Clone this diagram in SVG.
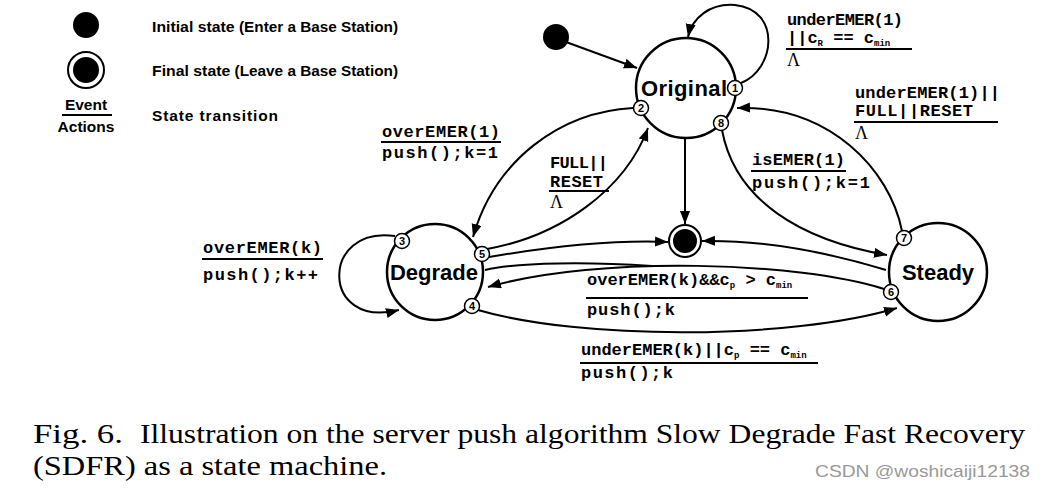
<svg xmlns="http://www.w3.org/2000/svg" width="1046" height="490" viewBox="0 0 1046 490">
<style>
.st{fill:#fff;stroke:#000;stroke-width:2.5}
.bd{fill:#fff;stroke:#000;stroke-width:1.5}
.bt{font-family:"Liberation Sans",Arial,sans-serif;font-weight:bold;font-size:11px;text-anchor:middle}
.nm{font-family:"Liberation Sans",Arial,sans-serif;font-weight:bold;font-size:22px;text-anchor:middle}
.lb{font-family:"Liberation Mono","Courier New",monospace;font-weight:bold;font-size:17px}
.lam{font-family:"Liberation Serif","Times New Roman",serif;font-size:18px}
.bar{stroke:#000;stroke-width:1.8}
.e{fill:none;stroke:#000;stroke-width:2}
.ea{fill:none;stroke:#000;stroke-width:2;marker-end:url(#ah)}
.lg{font-family:"Liberation Sans",Arial,sans-serif;font-weight:bold;font-size:15.5px}
.cap{font-family:"Liberation Serif","Times New Roman",serif;font-size:27px}
</style>
<defs>
<marker id="ah" markerUnits="userSpaceOnUse" markerWidth="14" markerHeight="12" refX="13" refY="5" orient="auto">
<path d="M0,0 L13,5 L0,10 z" fill="#000"/>
</marker>
</defs>
<rect width="1046" height="490" fill="#fff"/>

<g id="legend">
<circle cx="86" cy="25" r="13" fill="#000"/>
<circle cx="86" cy="70" r="18" fill="#fff" stroke="#000" stroke-width="2"/>
<circle cx="86" cy="70" r="13" fill="#000"/>
<text x="86" y="110" class="lg" font-size="14" text-anchor="middle">Event</text>
<line x1="62" y1="115" x2="112" y2="115" class="bar"/>
<text x="86" y="132" class="lg" font-size="14" text-anchor="middle">Actions</text>
<text x="152" y="32" class="lg" textLength="246" lengthAdjust="spacingAndGlyphs">Initial state <tspan font-size="15">(Enter a Base Station)</tspan></text>
<text x="152" y="76" class="lg" textLength="246" lengthAdjust="spacingAndGlyphs">Final state <tspan font-size="15">(Leave a Base Station)</tspan></text>
<text x="152" y="121" class="lg" textLength="126">State transition</text>
</g>

<g id="connectors">
<line x1="566" y1="42" x2="637" y2="68" class="ea"/>
<path d="M741,83 C775,70 782,10 735,5 C710,3 692,18 688,37" class="ea"/>
<line x1="685" y1="138" x2="685" y2="224" class="ea"/>
<path d="M633,108 C560,112 495,160 473,237" class="ea"/>
<path d="M487,249 C560,236 625,190 648,128" class="ea"/>
<path d="M489,257 C560,245 620,240 668,242" class="ea"/>
<path d="M485,270 C520,262 590,262 652,266" class="e"/>
<path d="M884,289 C800,262 600,255 488,287" class="ea"/>
<path d="M886,270 C820,250 760,240 702,241" class="ea"/>
<path d="M478,310 C580,340 790,340 897,308" class="ea"/>
<path d="M722,130 C735,200 800,240 887,255" class="ea"/>
<path d="M902,231 C890,170 830,105 737,108" class="ea"/>
<path d="M395,236 C320,225 320,330 399,310" class="ea"/>
</g>

<g id="labels">
<text x="787" y="25" class="lb" textLength="116">underEMER(1)</text>
<text x="787" y="43" class="lb">||c<tspan font-size="9" dy="3">R</tspan><tspan dy="-3"> == c</tspan><tspan font-size="9" dy="3">min</tspan></text>
<line x1="786" y1="49" x2="912" y2="49" class="bar"/>
<text x="787" y="66" class="lam">Λ</text>

<text x="855" y="98" class="lb" textLength="145">underEMER(1)||</text>
<text x="855" y="116" class="lb" textLength="118">FULL||RESET</text>
<line x1="854" y1="122" x2="998" y2="122" class="bar"/>
<text x="855" y="139" class="lam">Λ</text>

<text x="752" y="165" class="lb" textLength="93">isEMER(1)</text>
<line x1="751" y1="171" x2="846" y2="171" class="bar"/>
<text x="752" y="188" class="lb" textLength="118">push();k=1</text>

<text x="382" y="137" class="lb" textLength="118">overEMER(1)</text>
<line x1="381" y1="142" x2="501" y2="142" class="bar"/>
<text x="382" y="158" class="lb" textLength="116">push();k=1</text>

<text x="550" y="168" class="lb" textLength="58">FULL||</text>
<text x="550" y="187" class="lb" textLength="53">RESET</text>
<line x1="549" y1="191" x2="609" y2="191" class="bar"/>
<text x="550" y="208" class="lam">Λ</text>

<text x="203" y="253" class="lb" textLength="119">overEMER(k)</text>
<line x1="202" y1="259" x2="323" y2="259" class="bar"/>
<text x="203" y="280" class="lb" textLength="115">push();k++</text>

<text x="587" y="285" class="lb">overEMER(k)&amp;&amp;c<tspan font-size="9" dy="3">p</tspan><tspan dy="-3"> &gt; c</tspan><tspan font-size="9" dy="3">min</tspan></text>
<line x1="586" y1="298" x2="808" y2="298" class="bar"/>
<text x="587" y="315" class="lb" textLength="88">push();k</text>

<text x="581" y="355" class="lb">underEMER(k)||c<tspan font-size="9" dy="3">p</tspan><tspan dy="-3"> == c</tspan><tspan font-size="9" dy="3">min</tspan></text>
<line x1="580" y1="363" x2="818" y2="363" class="bar"/>
<text x="581" y="378" class="lb" textLength="92">push();k</text>
</g>

<g id="initial">
<circle cx="556" cy="37" r="13" fill="#000"/>
</g>

<g id="final">
<circle cx="685" cy="241" r="16" fill="#fff" stroke="#000" stroke-width="2"/>
<circle cx="685" cy="241" r="12" fill="#000"/>
</g>

<g id="original">
<circle cx="686" cy="88" r="50" class="st"/>
<text x="684" y="96" class="nm" textLength="86">Original</text>
<circle cx="735" cy="88" r="7.5" class="bd"/><text x="735" y="92" class="bt">1</text>
<circle cx="641" cy="108" r="7.5" class="bd"/><text x="641" y="112" class="bt">2</text>
<circle cx="721" cy="123" r="7.5" class="bd"/><text x="721" y="127" class="bt">8</text>
</g>

<g id="degrade">
<circle cx="435" cy="272" r="48" class="st"/>
<text x="434" y="280" class="nm">Degrade</text>
<circle cx="402" cy="241" r="7.5" class="bd"/><text x="402" y="245" class="bt">3</text>
<circle cx="482" cy="254" r="7.5" class="bd"/><text x="482" y="258" class="bt">5</text>
<circle cx="472" cy="306" r="7.5" class="bd"/><text x="472" y="310" class="bt">4</text>
</g>

<g id="steady">
<circle cx="938" cy="272" r="49" class="st"/>
<text x="938" y="280" class="nm">Steady</text>
<circle cx="904" cy="238" r="7.5" class="bd"/><text x="904" y="242" class="bt">7</text>
<circle cx="891" cy="292" r="7.5" class="bd"/><text x="891" y="296" class="bt">6</text>
</g>

<g id="caption">
<text x="33" y="443" class="cap" textLength="90" lengthAdjust="spacingAndGlyphs">Fig. 6.</text>
<text x="140" y="443" class="cap" textLength="885" lengthAdjust="spacingAndGlyphs">Illustration on the server push algorithm Slow Degrade Fast Recovery</text>
<text x="33" y="475" class="cap" textLength="354" lengthAdjust="spacingAndGlyphs">(SDFR) as a state machine.</text>
<text x="815" y="477" font-family="'Liberation Sans',Arial,sans-serif" font-size="17" fill="#999" textLength="215" lengthAdjust="spacingAndGlyphs">CSDN @woshicaiji12138</text>
</g>
</svg>
